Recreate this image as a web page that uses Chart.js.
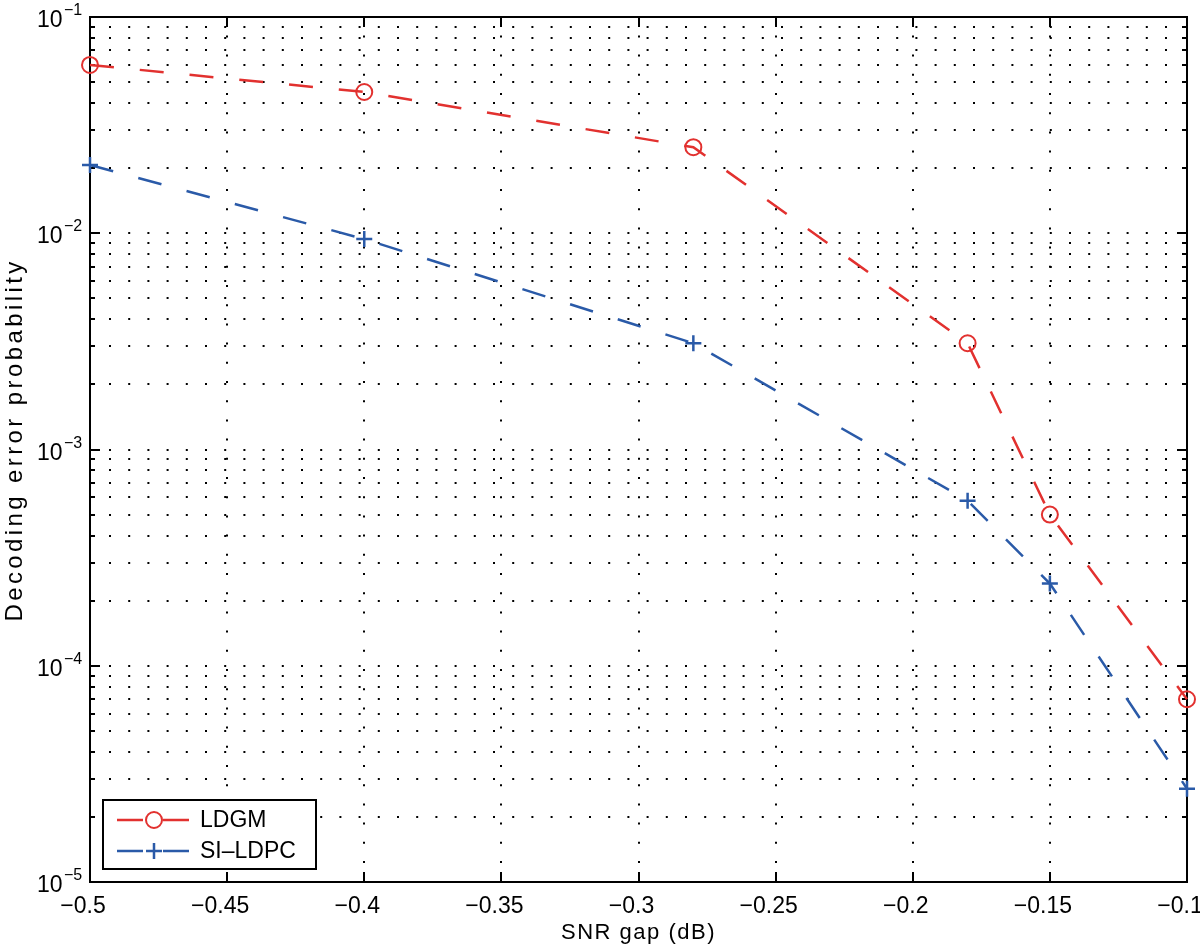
<!DOCTYPE html>
<html>
<head>
<meta charset="utf-8">
<script src="https://cdn.jsdelivr.net/npm/chart.js@4/dist/chart.umd.min.js"></script>
<style>
  html, body { margin: 0; padding: 0; background: #fff; }
</style>
</head>
<body>
<canvas id="chart" width="1200" height="949"></canvas>
<script>
// values
const snrGap = [-0.5, -0.4, -0.28, -0.18, -0.15, -0.1];
const ldgmError = [0.06, 0.045, 0.025, 0.0031, 0.0005, 0.00007];
const sildpcError = [0.0207, 0.0094, 0.0031, 0.00058, 0.00024, 0.000027];

const xTicks = [-0.5, -0.45, -0.4, -0.35, -0.3, -0.25, -0.2, -0.15, -0.1];
const xTickLabels = ['\u22120.5', '\u22120.45', '\u22120.4', '\u22120.35', '\u22120.3',
                     '\u22120.25', '\u22120.2', '\u22120.15', '\u22120.1'];
const yDecades = [-5, -4, -3, -2, -1];

const xTitle = 'SNR gap (dB)';
const yTitle = 'Decoding error probability';

const FONT = "'Liberation Sans', Arial, Helvetica, sans-serif";

/**
 * MATLAB style axes: dotted grid, inward ticks, box, labels and legend
 */
const matlabAxes = {
    id: 'matlabAxes',
    beforeDatasetsDraw(chart) {
        const ctx = chart.ctx;
        const {left, right, top, bottom} = chart.chartArea;
        const xs = chart.scales.x;
        const ys = chart.scales.y;

        ctx.save();
        // dotted grid
        ctx.strokeStyle = '#000';
        ctx.lineWidth = 2;
        ctx.setLineDash([2, 17.2]);
        yDecades.forEach(e => {
            for (let k = 1; k < 10; k++) {
                const v = k * Math.pow(10, e);
                if (v <= ys.min * 1.0001 || v >= ys.max * 0.9999) continue;
                const y = Math.round(ys.getPixelForValue(v));
                ctx.beginPath();
                ctx.moveTo(left + 19, y);
                ctx.lineTo(right - 2, y);
                ctx.stroke();
            }
        });
        xTicks.forEach(t => {
            const x = Math.round(xs.getPixelForValue(t));
            if (x <= left + 1 || x >= right - 1) return;
            ctx.beginPath();
            ctx.moveTo(x, bottom - 19);
            ctx.lineTo(x, top + 2);
            ctx.stroke();
        });

        // box
        ctx.setLineDash([]);
        ctx.lineWidth = 2;
        ctx.strokeRect(left, top, right - left, bottom - top);

        // ticks pointing inward
        ctx.beginPath();
        xTicks.forEach(t => {
            const x = Math.round(xs.getPixelForValue(t));
            ctx.moveTo(x, bottom); ctx.lineTo(x, bottom - 10);
            ctx.moveTo(x, top); ctx.lineTo(x, top + 10);
        });
        yDecades.forEach(e => {
            for (let k = 1; k < 10; k++) {
                const v = k * Math.pow(10, e);
                if (v < ys.min * 0.9999 || v > ys.max * 1.0001) continue;
                const y = Math.round(ys.getPixelForValue(v));
                const len = k === 1 ? 10 : 5;
                ctx.moveTo(left, y); ctx.lineTo(left + len, y);
                ctx.moveTo(right, y); ctx.lineTo(right - len, y);
            }
        });
        ctx.stroke();

        // x tick labels
        ctx.fillStyle = '#000';
        ctx.font = '23px ' + FONT;
        ctx.textAlign = 'center';
        ctx.textBaseline = 'alphabetic';
        xTicks.forEach((t, i) => {
            const x = xs.getPixelForValue(t);
            ctx.fillText(xTickLabels[i], x - 7, bottom + 31);
        });

        // y tick labels, 10 with a superscript exponent
        ctx.textAlign = 'left';
        yDecades.forEach(e => {
            const y = ys.getPixelForValue(Math.pow(10, e));
            ctx.font = '23px ' + FONT;
            ctx.fillText('10', 37, y + 10);
            ctx.font = '16px ' + FONT;
            ctx.fillText('\u2212' + Math.abs(e), 64, y - 2);
        });

        // axis titles
        ctx.font = '22px ' + FONT;
        ctx.letterSpacing = '1.5px';
        ctx.textAlign = 'center';
        ctx.fillText(xTitle, (left + right) / 2, 939);

        ctx.save();
        ctx.translate(22, 440);
        ctx.rotate(-Math.PI / 2);
        ctx.font = '24px ' + FONT;
        ctx.letterSpacing = '3.4px';
        ctx.fillText(yTitle, 0, 0);
        ctx.restore();
        ctx.letterSpacing = '0px';

        ctx.restore();
    },
    afterDatasetsDraw(chart) {
        const ctx = chart.ctx;
        const lx = 103, ly = 800, lw = 213, lh = 69;
        ctx.save();
        ctx.fillStyle = '#fff';
        ctx.fillRect(lx, ly, lw, lh);
        ctx.strokeStyle = '#000';
        ctx.lineWidth = 2;
        ctx.strokeRect(lx, ly, lw, lh);

        chart.data.datasets.forEach((ds, i) => {
            const y = ly + 20 + i * 31;
            ctx.strokeStyle = ds.borderColor;
            ctx.lineWidth = ds.borderWidth;
            ctx.setLineDash([26, 20]);
            ctx.beginPath();
            ctx.moveTo(117, y);
            ctx.lineTo(192, y);
            ctx.stroke();
            ctx.setLineDash([]);
            ctx.lineWidth = ds.pointBorderWidth;
            ctx.fillStyle = 'rgba(0,0,0,0)';
            Chart.helpers.drawPoint(ctx, {
                pointStyle: ds.pointStyle,
                radius: ds.pointRadius,
                rotation: 0,
                borderWidth: ds.pointBorderWidth
            }, 154, y);

            ctx.fillStyle = '#000';
            ctx.font = '23px ' + FONT;
            ctx.textAlign = 'left';
            ctx.textBaseline = 'middle';
            ctx.fillText(ds.label, 200, y + 1);
        });
        ctx.restore();
    }
};

const redColor = '#e2312f';
const blueColor = '#2a5aa8';

new Chart(document.getElementById('chart'), {
    type: 'line',
    data: {
        labels: snrGap,
        datasets: [
            {
                label: 'LDGM',
                data: snrGap.map((x, i) => ({x: x, y: ldgmError[i]})),
                borderColor: redColor,
                borderWidth: 2.5,
                borderDash: [24, 26],
                pointStyle: 'circle',
                pointRadius: 8,
                pointBorderWidth: 2,
                pointBorderColor: redColor,
                pointBackgroundColor: 'rgba(0,0,0,0)',
                tension: 0,
                fill: false,
                clip: false
            },
            {
                label: 'SI\u2013LDPC',
                data: snrGap.map((x, i) => ({x: x, y: sildpcError[i]})),
                borderColor: blueColor,
                borderWidth: 2.5,
                borderDash: [24, 26],
                pointStyle: 'cross',
                pointRadius: 8,
                pointBorderWidth: 2.5,
                pointBorderColor: blueColor,
                pointBackgroundColor: blueColor,
                tension: 0,
                fill: false,
                clip: false
            }
        ]
    },
    options: {
        responsive: false,
        animation: false,
        layout: {
            padding: {left: 90, top: 17, right: 13, bottom: 67}
        },
        scales: {
            x: {
                type: 'linear',
                min: -0.5,
                max: -0.1,
                display: false
            },
            y: {
                type: 'logarithmic',
                min: 1e-5,
                max: 1e-1,
                display: false
            }
        },
        plugins: {
            legend: {display: false},
            tooltip: {enabled: false}
        }
    },
    plugins: [matlabAxes]
});
</script>
</body>
</html>
